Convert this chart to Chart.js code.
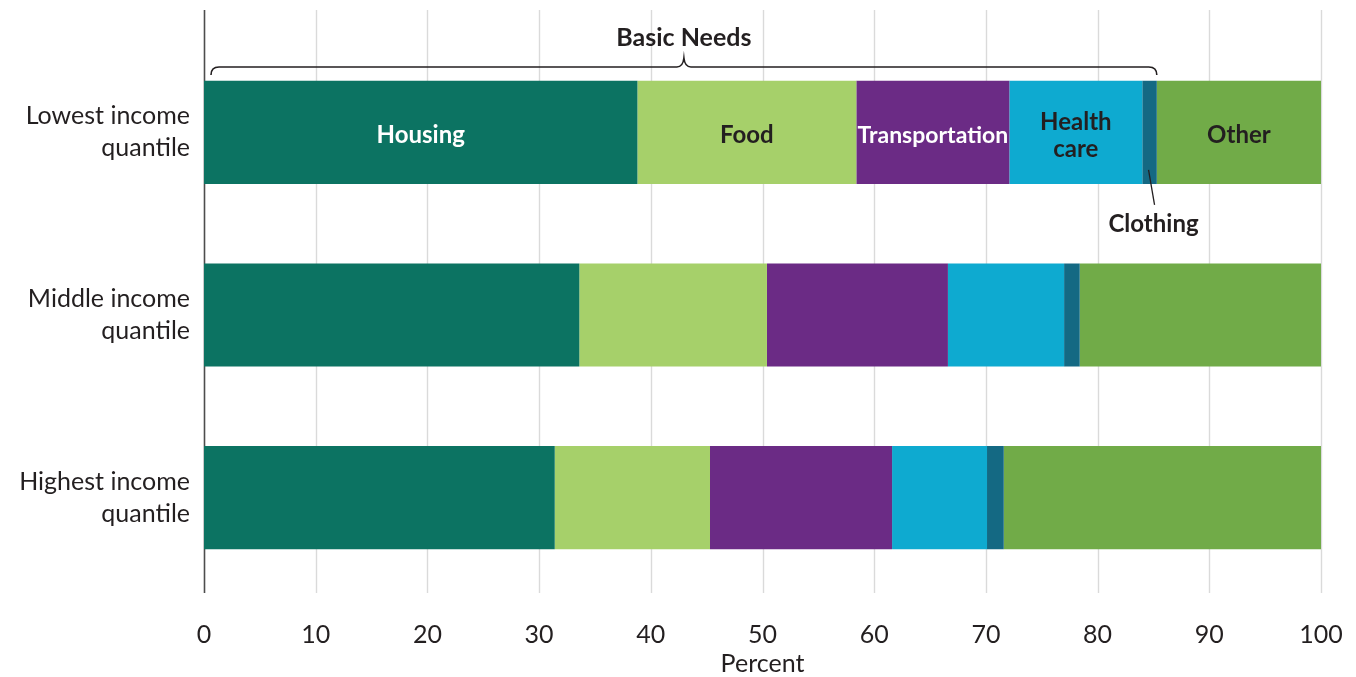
<!DOCTYPE html>
<html>
<head>
<meta charset="utf-8">
<script src="https://cdn.jsdelivr.net/npm/chart.js@4/dist/chart.umd.min.js"></script>
<style>
  html, body { margin: 0; padding: 0; background: #fff; }
  canvas { display: block; }
</style>
</head>
<body>
<canvas id="c" width="1356" height="677"></canvas>
<script>
// Income groups (multi-line tick labels)
const groups = [
  ['Lowest income', 'quantile'],
  ['Middle income', 'quantile'],
  ['Highest income', 'quantile']
];

// Share of spending, percent (lowest, middle, highest)
const housing        = [38.8, 33.6, 31.4];
const food           = [19.6, 16.8, 13.9];
const transportation = [13.7, 16.2, 16.3];
const healthCare     = [11.9, 10.4,  8.5];
const clothing       = [ 1.3,  1.4,  1.5];
const other          = [14.7, 21.6, 28.4];

const xTicks = [0, 10, 20, 30, 40, 50, 60, 70, 80, 90, 100];

const INK = '#231f20';
const FONT = 'Lato, "Open Sans", sans-serif';

const series = [
  { label: 'Housing',        data: housing,        color: '#0c7362', text: '#ffffff', size: 24, lines: ['Housing'] },
  { label: 'Food',           data: food,           color: '#a6d06a', text: INK,       size: 24, lines: ['Food'] },
  { label: 'Transportation', data: transportation, color: '#6b2b85', text: '#ffffff', size: 23, lines: ['Transportation'] },
  { label: 'Health care',    data: healthCare,     color: '#0eaad0', text: INK,       size: 24, lines: ['Health', 'care'] },
  { label: 'Clothing',       data: clothing,       color: '#146983', text: null,      size: 24, lines: [] },
  { label: 'Other',          data: other,          color: '#71ab48', text: INK,       size: 24, lines: ['Other'] }
];

// Vertical grid lines and the left axis, running past the plot area
const gridPlugin = {
  id: 'gridLines',
  beforeDatasetsDraw(chart) {
    const { ctx } = chart;
    const x = chart.scales.x;
    const top = 10, bottom = 593;
    ctx.save();
    xTicks.forEach(v => {
      const px = Math.round(x.getPixelForValue(v)) + 0.5;
      ctx.strokeStyle = v === 0 ? '#4d4d4d' : '#dadada';
      ctx.lineWidth = v === 0 ? 1.6 : 1.4;
      ctx.beginPath();
      ctx.moveTo(px, top);
      ctx.lineTo(px, bottom);
      ctx.stroke();
    });
    ctx.restore();
  }
};

// In-bar labels, the "Basic Needs" brace and the clothing callout
const annotatePlugin = {
  id: 'annotate',
  afterDatasetsDraw(chart) {
    const { ctx } = chart;
    const x = chart.scales.x;
    ctx.save();
    ctx.textAlign = 'center';
    ctx.textBaseline = 'middle';

    series.forEach((s, i) => {
      if (!s.lines.length) return;
      const el = chart.getDatasetMeta(i).data[0];
      const cx = (el.x + el.base) / 2;
      const lh = 27;
      const y0 = el.y + 3 - (s.lines.length - 1) * lh / 2;
      ctx.font = 'bold ' + s.size + 'px ' + FONT;
      ctx.fillStyle = s.text;
      s.lines.forEach((t, k) => ctx.fillText(t, cx, y0 + k * lh));
    });

    // Clothing callout
    const ce = chart.getDatasetMeta(4).data[0];
    const cBottom = ce.y + ce.height / 2;
    const ccx = (ce.x + ce.base) / 2;
    ctx.strokeStyle = INK;
    ctx.lineWidth = 1.3;
    ctx.beginPath();
    ctx.moveTo(ccx - 1, cBottom - 14);
    ctx.lineTo(ccx + 5, cBottom + 21);
    ctx.stroke();
    ctx.font = 'bold 24px ' + FONT;
    ctx.fillStyle = INK;
    ctx.fillText('Clothing', ccx + 4, cBottom + 40);

    // Brace over the basic-needs categories
    const L = x.getPixelForValue(0) + 7;
    const R = ce.x;
    const M = (L + R) / 2;
    const yl = 67, tip = 75, peak = 58;
    ctx.lineWidth = 1.6;
    ctx.beginPath();
    ctx.moveTo(L, tip);
    ctx.quadraticCurveTo(L, yl, L + 8, yl);
    ctx.lineTo(M - 7, yl);
    ctx.quadraticCurveTo(M - 1, yl, M, peak);
    ctx.quadraticCurveTo(M + 1, yl, M + 7, yl);
    ctx.lineTo(R - 8, yl);
    ctx.quadraticCurveTo(R, yl, R, tip);
    ctx.stroke();
    ctx.font = 'bold 25px ' + FONT;
    ctx.fillText('Basic Needs', M, 38);
    ctx.restore();
  }
};

new Chart(document.getElementById('c'), {
  type: 'bar',
  data: {
    labels: groups,
    datasets: series.map(s => ({
      label: s.label,
      data: s.data,
      backgroundColor: s.color,
      borderWidth: 0,
      categoryPercentage: 1,
      barPercentage: 0.565
    }))
  },
  options: {
    indexAxis: 'y',
    responsive: false,
    animation: false,
    layout: { padding: { top: 41, right: 35, bottom: 0, left: 0 } },
    plugins: {
      legend: { display: false },
      tooltip: { enabled: false }
    },
    scales: {
      x: {
        stacked: true,
        min: 0,
        max: 100,
        afterBuildTicks: s => { s.ticks = xTicks.map(v => ({ value: v })); },
        grid: { display: false, drawTicks: false },
        border: { display: false },
        ticks: {
          padding: 31,
          color: INK,
          font: { family: FONT, size: 25 }
        },
        title: {
          display: true,
          text: 'Percent',
          color: INK,
          padding: { top: 0, bottom: -2 },
          font: { family: FONT, size: 25 }
        },
        afterFit: s => {
          s.height = 88;
          s.paddingLeft = 0;
          s.paddingRight = 0;
        }
      },
      y: {
        stacked: true,
        grid: { display: false, drawTicks: false },
        border: { display: false },
        ticks: {
          padding: 14,
          color: INK,
          font: { family: FONT, size: 25, lineHeight: 1.28 }
        },
        afterFit: s => {
          s.width = 204;
          s.paddingTop = 0;
          s.paddingBottom = 0;
        }
      }
    }
  },
  plugins: [gridPlugin, annotatePlugin]
});
</script>
</body>
</html>
